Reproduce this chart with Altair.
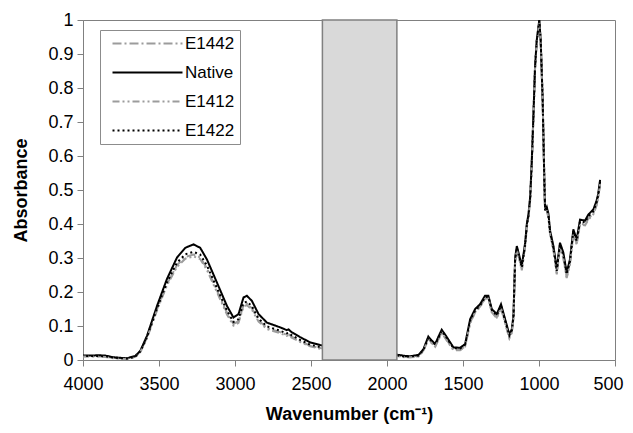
import altair as alt
import pandas as pd

# ---------------- data ----------------
series_names = ["E1442", "Native", "E1412", "E1422"]

wn_left = [4000, 3950, 3900, 3853, 3800, 3711, 3656, 3623, 3579, 3513,
           3448, 3382, 3327, 3273, 3229, 3185, 3119, 3053, 3010, 2977,
           2944, 2922, 2889, 2845, 2790, 2703, 2660, 2648, 2628, 2571,
           2506, 2440, 2400, 2200, 2000]
wn_right = [1960, 1925, 1880, 1848, 1793, 1760, 1728, 1705, 1683, 1660,
            1640, 1618, 1596, 1563, 1519, 1486, 1453, 1420, 1388, 1355,
            1333, 1311, 1278, 1250, 1223, 1195, 1179, 1168, 1157, 1146,
            1135, 1113, 1091, 1080, 1069, 1058, 1048, 1037, 1026, 1015,
            998, 989, 976, 965, 960, 949, 938, 927, 905, 883,
            862, 840, 818, 796, 774, 752, 730, 697, 675, 642,
            620, 610, 598]

native_left = [0.013, 0.013, 0.014, 0.013, 0.008, 0.005, 0.012, 0.027, 0.071, 0.159,
               0.238, 0.301, 0.330, 0.340, 0.330, 0.296, 0.228, 0.159, 0.125, 0.135,
               0.184, 0.189, 0.174, 0.135, 0.110, 0.096, 0.088, 0.090, 0.082, 0.067,
               0.052, 0.044, 0.040, 0.030, 0.022]
native_right = [0.018, 0.015, 0.012, 0.011, 0.015, 0.032, 0.069, 0.057, 0.047, 0.070,
                0.089, 0.075, 0.060, 0.037, 0.036, 0.047, 0.120, 0.150, 0.164, 0.189,
                0.189, 0.150, 0.135, 0.164, 0.120, 0.075, 0.090, 0.130, 0.300, 0.335,
                0.316, 0.277, 0.345, 0.400, 0.430, 0.480, 0.580, 0.716, 0.863, 0.940,
                1.000, 0.940, 0.765, 0.530, 0.440, 0.450, 0.430, 0.380, 0.335, 0.267,
                0.345, 0.316, 0.257, 0.296, 0.384, 0.355, 0.413, 0.410, 0.428, 0.443,
                0.470, 0.490, 0.530]

e1422_left = [0.012, 0.012, 0.012, 0.011, 0.007, 0.004, 0.010, 0.025, 0.068, 0.152,
              0.228, 0.286, 0.311, 0.318, 0.310, 0.278, 0.212, 0.145, 0.112, 0.120,
              0.168, 0.172, 0.158, 0.122, 0.099, 0.086, 0.078, 0.080, 0.073, 0.059,
              0.045, 0.038, 0.035, 0.026, 0.019]
e1422_right = [0.016, 0.013, 0.010, 0.010, 0.013, 0.030, 0.066, 0.055, 0.045, 0.067,
               0.086, 0.072, 0.057, 0.035, 0.034, 0.045, 0.116, 0.146, 0.160, 0.185,
               0.186, 0.147, 0.131, 0.160, 0.116, 0.072, 0.087, 0.127, 0.295, 0.330,
               0.312, 0.272, 0.340, 0.395, 0.425, 0.475, 0.575, 0.712, 0.860, 0.938,
               0.998, 0.945, 0.770, 0.535, 0.445, 0.447, 0.425, 0.376, 0.330, 0.262,
               0.340, 0.311, 0.252, 0.291, 0.379, 0.350, 0.408, 0.405, 0.423, 0.438,
               0.465, 0.485, 0.525]

e1442_left = [0.011, 0.011, 0.010, 0.010, 0.006, 0.004, 0.009, 0.024, 0.066, 0.149,
              0.223, 0.279, 0.303, 0.310, 0.302, 0.270, 0.205, 0.139, 0.106, 0.114,
              0.161, 0.166, 0.152, 0.117, 0.094, 0.082, 0.074, 0.076, 0.069, 0.056,
              0.042, 0.035, 0.032, 0.024, 0.017]
e1442_right = [0.015, 0.012, 0.009, 0.008, 0.011, 0.028, 0.063, 0.050, 0.040, 0.062,
               0.082, 0.067, 0.052, 0.030, 0.030, 0.040, 0.110, 0.142, 0.157, 0.182,
               0.183, 0.142, 0.125, 0.155, 0.110, 0.066, 0.082, 0.122, 0.290, 0.326,
               0.306, 0.266, 0.336, 0.392, 0.423, 0.472, 0.572, 0.710, 0.858, 0.936,
               0.995, 0.943, 0.768, 0.532, 0.442, 0.443, 0.420, 0.370, 0.324, 0.255,
               0.333, 0.303, 0.244, 0.284, 0.372, 0.343, 0.401, 0.399, 0.416, 0.432,
               0.459, 0.480, 0.520]

e1412_left = [0.010, 0.010, 0.010, 0.009, 0.005, 0.003, 0.008, 0.023, 0.064, 0.146,
              0.219, 0.274, 0.298, 0.305, 0.297, 0.265, 0.200, 0.134, 0.101, 0.109,
              0.157, 0.162, 0.148, 0.113, 0.091, 0.079, 0.071, 0.073, 0.066, 0.053,
              0.040, 0.033, 0.030, 0.022, 0.016]
e1412_right = [0.014, 0.011, 0.008, 0.008, 0.010, 0.027, 0.061, 0.049, 0.039, 0.060,
               0.080, 0.065, 0.050, 0.029, 0.029, 0.039, 0.108, 0.140, 0.155, 0.180,
               0.181, 0.140, 0.123, 0.153, 0.108, 0.064, 0.080, 0.120, 0.288, 0.324,
               0.304, 0.264, 0.334, 0.390, 0.421, 0.470, 0.570, 0.708, 0.856, 0.934,
               0.993, 0.941, 0.766, 0.530, 0.440, 0.441, 0.418, 0.368, 0.322, 0.252,
               0.330, 0.300, 0.241, 0.281, 0.369, 0.340, 0.398, 0.396, 0.413, 0.429,
               0.456, 0.477, 0.517]

# masked (greyed-out) spectral band
gap_start = 2425
gap_end = 1935

x_ticks = [4000, 3500, 3000, 2500, 2000, 1500, 1000, 500]
y_ticks = [0, 0.1, 0.2, 0.3, 0.4, 0.5, 0.6, 0.7, 0.8, 0.9, 1]

# ---------------- build table ----------------
wn_all = wn_left + wn_right
series_values = {
    "E1442": e1442_left + e1442_right,
    "Native": native_left + native_right,
    "E1412": e1412_left + e1412_right,
    "E1422": e1422_left + e1422_right,
}
rows = []
for s in series_names:
    for w, a in zip(wn_all, series_values[s]):
        rows.append({"wavenumber": w, "absorbance": a, "sample": s})
df = pd.DataFrame(rows)
gap_df = pd.DataFrame({"start": [gap_start], "end": [gap_end], "low": [0.0], "high": [1.0]})

series_colors = ["#9c9c9c", "#000000", "#9c9c9c", "#000000"]
series_dashes = [[9, 3, 2, 3], [1, 0], [7, 3, 2, 3, 2, 3], [2, 3]]

FONT = "Liberation Sans"

x_scale = alt.Scale(domain=[500, 4000], reverse=True, nice=False, zero=False)
y_scale = alt.Scale(domain=[0, 1], nice=False)

legend = alt.Legend(
    title=None, orient="none", legendX=17, legendY=10, columns=1,
    symbolType="M-9,0H1", symbolSize=196, symbolStrokeWidth=2,
    symbolOffset=62, labelOffset=1, labelAlign="left",
    labelFont=FONT, labelFontSize=17, labelColor="#000000",
    rowPadding=11, padding=5,
    strokeColor="#8c8c8c", fillColor="#ffffff",
)

x_axis = alt.Axis(values=x_ticks, title="Wavenumber (cm⁻¹)", format="d",
                  labelFont=FONT, labelFontSize=18, labelColor="#000000",
                  labelOffset={"condition": {"test": "datum.value == 500", "value": -7}, "value": 0},
                  titleFont=FONT, titleFontSize=18, titleFontWeight="bold", titleColor="#000000",
                  titlePadding=12, labelPadding=9, tickSize=6, tickColor="#808080",
                  domainColor="#808080", grid=False, labelFlush=False, labelOverlap=False)
y_axis = alt.Axis(values=y_ticks, title="Absorbance", format=".1~f",
                  labelFont=FONT, labelFontSize=18, labelColor="#000000",
                  titleFont=FONT, titleFontSize=18, titleFontWeight="bold", titleColor="#000000",
                  titlePadding=17, labelPadding=4, tickSize=6, tickColor="#808080",
                  domainColor="#808080", grid=False, labelFlush=False, labelOverlap=False)

lines = alt.Chart(df).mark_line(strokeWidth=2, clip=True).encode(
    x=alt.X("wavenumber:Q", scale=x_scale, axis=x_axis),
    y=alt.Y("absorbance:Q", scale=y_scale, axis=y_axis),
    color=alt.Color("sample:N", scale=alt.Scale(domain=series_names, range=series_colors), legend=legend),
    strokeDash=alt.StrokeDash("sample:N", scale=alt.Scale(domain=series_names, range=series_dashes), legend=legend),
    order=alt.Order("wavenumber:Q"),
)

band = alt.Chart(gap_df).mark_rect(fill="#d9d9d9", stroke="#808080", strokeWidth=1.5).encode(
    x=alt.X("start:Q", scale=x_scale, axis=x_axis),
    x2="end:Q",
    y=alt.Y("low:Q", scale=y_scale, axis=y_axis),
    y2="high:Q",
)

chart = alt.layer(lines, band).properties(
    width=532, height=340,
    autosize=alt.AutoSizeParams(type="none"),
    padding={"left": 75, "top": 12, "right": 10, "bottom": 65},
    background="#ffffff",
).configure_view(stroke="#808080", strokeWidth=1)

chart.save("out.html", embed_options={"renderer": "svg", "actions": False})
